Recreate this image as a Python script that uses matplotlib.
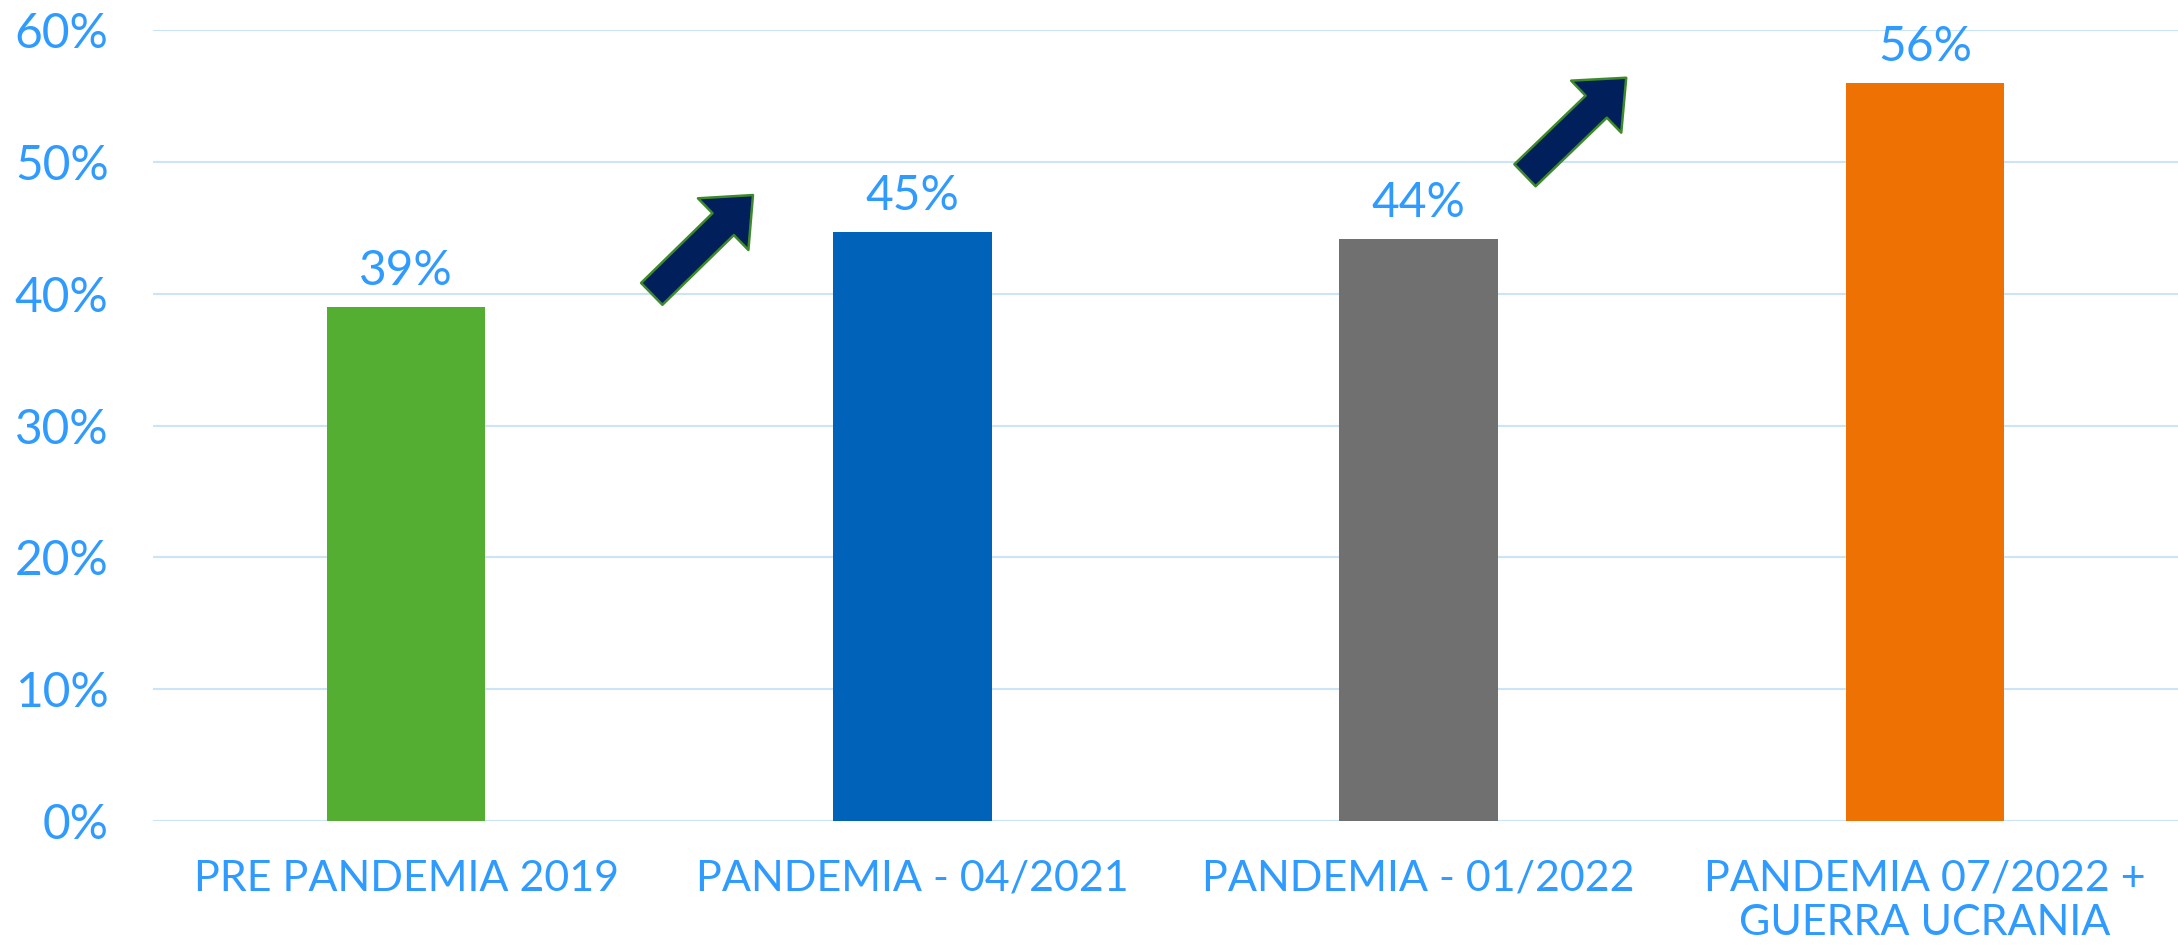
import matplotlib.pyplot as plt
import numpy as np

plt.rcParams['font.family'] = ['Lato', 'DejaVu Sans']

categories = ["PRE PANDEMIA 2019", "PANDEMIA - 04/2021", "PANDEMIA - 01/2022",
              "PANDEMIA 07/2022 +\nGUERRA UCRANIA"]
values = [39.0, 44.7, 44.2, 56.0]
labels = ["39%", "45%", "44%", "56%"]
colors = ["#53AE32", "#0062B8", "#707070", "#EE7203"]

# arrows: (tail x, tail y, tip x, tip y) in data units
arrows = [(0.485, 40.0, 0.685, 47.5),
          (2.21, 49.0, 2.41, 56.4)]

txt = "#2F9BFF"

fig = plt.figure(figsize=(21.78, 9.47), dpi=100)
ax = fig.add_axes([0.0703, 0.133, 0.9297, 0.835])

x = np.arange(len(categories))
bars = ax.bar(x, values, width=0.313, color=colors, zorder=3)

for xi, v, lab in zip(x, values, labels):
    ax.annotate(lab, (xi, v), xytext=(0, 10), textcoords="offset points",
                ha="center", va="bottom", fontsize=34.5, color=txt)

for tx, ty, hx, hy in arrows:
    ax.annotate("", xy=(hx, hy), xytext=(tx, ty),
                arrowprops=dict(arrowstyle="simple,head_length=30,head_width=52,tail_width=22",
                                mutation_scale=1, fc="#001F5B", ec="#3E8A2A", lw=1.8,
                                shrinkA=0, shrinkB=0), zorder=4)

ax.set_xlim(-0.5, 3.5)
ax.set_ylim(0, 60)
ax.set_yticks(np.arange(0, 61, 10))
ax.set_yticklabels([f"{t}%" for t in range(0, 61, 10)])
ax.set_xticks(x)
ax.set_xticklabels(categories, linespacing=1.21)
ax.tick_params(axis="y", length=0, pad=32, labelsize=34.5, labelcolor=txt)
ax.tick_params(axis="x", length=0, pad=28, labelsize=31, labelcolor=txt)
ax.grid(axis="y", color="#CCE4F7", lw=1.5, zorder=0)
ax.set_axisbelow(True)
for s in ax.spines.values():
    s.set_visible(False)

plt.savefig("out.png", dpi=100, facecolor="white")
